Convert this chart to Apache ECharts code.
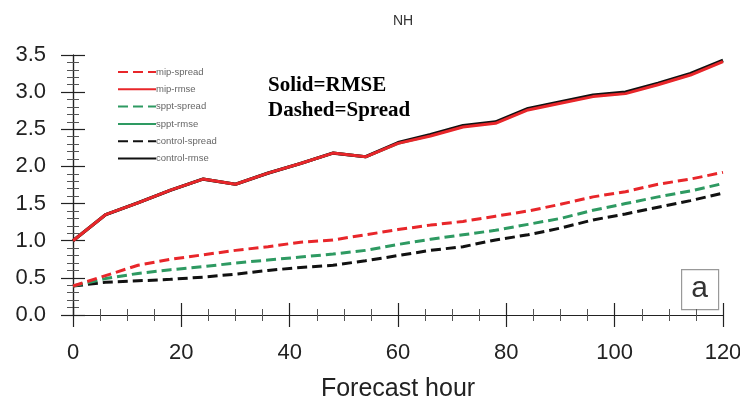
<!DOCTYPE html>
<html>
<head>
<meta charset="utf-8">
<script src="https://cdn.jsdelivr.net/npm/echarts@6/dist/echarts.min.js"></script>
<style>html,body{margin:0;padding:0;background:#fff}#c{width:740px;height:406px}</style>
</head>
<body>
<div id="c"></div>
<script>
const hours = [0,6,12,18,24,30,36,42,48,54,60,66,72,78,84,90,96,102,108,114,120];
const mipSpread     = [0.39,0.53,0.67,0.75,0.81,0.87,0.92,0.98,1.01,1.08,1.15,1.21,1.26,1.33,1.40,1.49,1.59,1.66,1.76,1.83,1.92];
const mipRmse       = [1.00,1.35,1.51,1.68,1.83,1.76,1.91,2.04,2.18,2.13,2.31,2.41,2.53,2.58,2.76,2.85,2.94,2.98,3.10,3.23,3.41];
const spptSpread    = [0.39,0.49,0.56,0.61,0.65,0.70,0.74,0.78,0.82,0.87,0.95,1.02,1.08,1.14,1.22,1.30,1.41,1.50,1.59,1.67,1.77];
const spptRmse      = [1.00,1.35,1.51,1.68,1.83,1.76,1.91,2.04,2.18,2.13,2.31,2.42,2.54,2.59,2.77,2.86,2.95,2.99,3.11,3.24,3.42];
const controlSpread = [0.39,0.44,0.46,0.48,0.51,0.55,0.60,0.64,0.67,0.73,0.80,0.87,0.92,1.01,1.08,1.17,1.28,1.36,1.45,1.54,1.64];
const controlRmse   = [1.00,1.35,1.51,1.68,1.83,1.76,1.91,2.04,2.18,2.13,2.32,2.43,2.55,2.60,2.78,2.87,2.96,3.00,3.12,3.25,3.43];
const yTicks = ['0.0','0.5','1.0','1.5','2.0','2.5','3.0','3.5'];

const RED = '#e8262a', GREEN = '#2e9a62', BLACK = '#111111';
const pairs = arr => hours.map((h,i)=>[h, arr[i]]);
function mk(name, arr, color, dashed, z, width){
  return {name, type:'line', data:pairs(arr), symbol:'none', z, xAxisIndex:0, yAxisIndex:0,
    lineStyle:{color, width: width||3, type: dashed ? [10,5] : 'solid'}, itemStyle:{color}};
}
const chart = echarts.init(document.getElementById('c'));
const axisLineStyle = {color:'#222', width:1.2};
const legendNames = ['mip-spread','mip-rmse','sppt-spread','sppt-rmse','control-spread','control-rmse'];
chart.setOption({
  animation:false,
  backgroundColor:'#fff',
  title:{text:'NH', left:398, top:9, textAlign:'center',
    textStyle:{fontFamily:'Liberation Sans', fontSize:14, fontWeight:'normal', color:'#333'}},
  grid:{left:73, right:17, top:55, bottom:91, show:false, containLabel:false, outerBoundsMode:'none'},
  legend:{orient:'vertical', left:112, top:62, itemWidth:38, itemHeight:8, itemGap:7.3,
    itemStyle:{opacity:0},
    data:legendNames.map(n=>({name:n})),
    textStyle:{fontFamily:'Liberation Sans', fontSize:9.5, color:'#666', padding:[0,0,0,-5]}},
  xAxis:[{type:'value', min:0, max:120, interval:20,
      axisLine:{show:true, lineStyle:axisLineStyle},
      axisTick:{show:true, length:12, lineStyle:axisLineStyle},
      minorTick:{show:true, splitNumber:4, length:6, lineStyle:{color:'#555'}},
      splitLine:{show:false},
      axisLabel:{margin:27, fontFamily:'Liberation Sans', fontSize:22, color:'#222'},
      name:'Forecast hour', nameLocation:'middle', nameGap:62,
      nameTextStyle:{fontFamily:'Liberation Sans', fontSize:25, color:'#222'}},
    {type:'value', min:0, max:120, interval:20, position:'top',
      axisLine:{show:true, lineStyle:axisLineStyle},
      axisTick:{show:true, length:12, lineStyle:axisLineStyle},
      minorTick:{show:true, splitNumber:4, length:6, lineStyle:{color:'#555'}},
      splitLine:{show:false}, axisLabel:{show:false}}],
  yAxis:[{type:'value', min:0, max:3.5, interval:0.5,
      axisLine:{show:true, lineStyle:axisLineStyle},
      axisTick:{show:true, length:12, lineStyle:axisLineStyle},
      minorTick:{show:true, splitNumber:5, length:6, lineStyle:{color:'#555'}},
      splitLine:{show:false},
      axisLabel:{margin:27, fontFamily:'Liberation Sans', fontSize:22, color:'#222',
        formatter:(v)=>yTicks[Math.round(v/0.5)]}},
    {type:'value', min:0, max:3.5, interval:0.5, position:'right',
      axisLine:{show:true, lineStyle:axisLineStyle},
      axisTick:{show:true, length:12, lineStyle:axisLineStyle},
      minorTick:{show:true, splitNumber:5, length:6, lineStyle:{color:'#555'}},
      splitLine:{show:false}, axisLabel:{show:false}}],
  graphic:[
    {type:'text', left:268, top:75, style:{text:'Solid=RMSE', font:'bold 21px "Liberation Serif"', fill:'#000'}},
    {type:'text', left:268, top:100, style:{text:'Dashed=Spread', font:'bold 21px "Liberation Serif"', fill:'#000'}},
    {type:'rect', left:681, top:269, shape:{width:37, height:40}, style:{fill:'#fff', stroke:'#999', lineWidth:1.2}},
    {type:'text', x:699.5, y:289, style:{text:'a', font:'30px "Liberation Sans"', fill:'#333', align:'center', verticalAlign:'middle'}}
  ],
  series:[
    mk('mip-spread', mipSpread, RED, true, 5),
    mk('mip-rmse', mipRmse, RED, false, 6, 3),
    mk('sppt-spread', spptSpread, GREEN, true, 4),
    mk('sppt-rmse', spptRmse, GREEN, false, 2),
    mk('control-spread', controlSpread, BLACK, true, 3),
    mk('control-rmse', controlRmse, BLACK, false, 3, 3.2)
  ]
});
</script>
</body>
</html>
